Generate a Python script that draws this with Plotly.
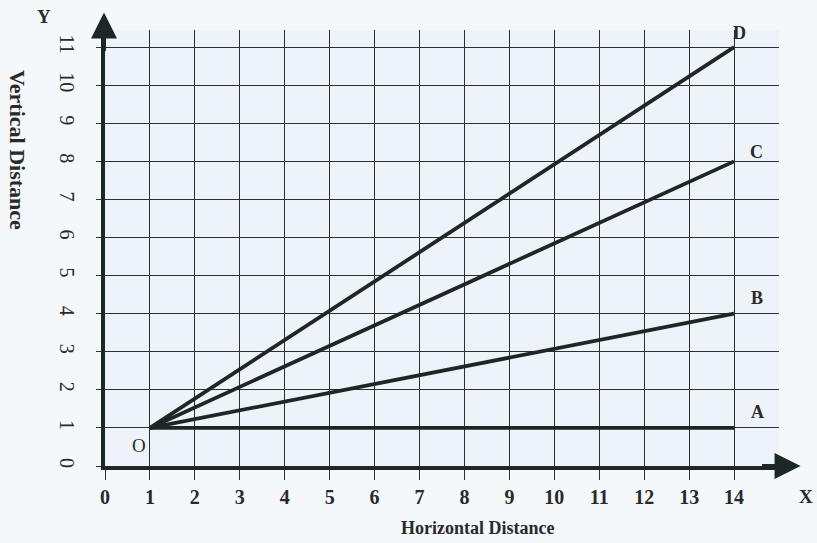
import plotly.graph_objects as go

# Rays drawn from the common origin O to the end points A, B, C, D
origin = (1, 1)
ray_names = ["A", "B", "C", "D"]
end_x = [14, 14, 14, 14]
end_y = [1, 4, 8, 11]

x_ticks = list(range(0, 15))
y_ticks = list(range(0, 12))

# Offsets of each end-point letter from its ray's end
label_dx = [0.52, 0.5, 0.5, 0.12]
label_dy = [0.42, 0.42, 0.25, 0.37]

INK = "#1d2725"
GRID = "#2a3230"
TEXT = "#2a2a2a"
SERIF = "Liberation Serif, Times New Roman, serif"

fig = go.Figure()

for name, xe, ye, dx, dy in zip(ray_names, end_x, end_y, label_dx, label_dy):
    fig.add_trace(go.Scatter(
        x=[origin[0], xe], y=[origin[1], ye], mode="lines",
        line=dict(color=INK, width=3.8), name=name, showlegend=False,
        hoverinfo="skip",
    ))
    fig.add_annotation(x=xe + dx, y=ye + dy, text=f"<b>{name}</b>",
                       showarrow=False, xref="x", yref="y",
                       xanchor="center", yanchor="middle",
                       font=dict(family=SERIF, size=18, color=TEXT))

# Origin label
fig.add_annotation(x=0.76, y=0.53, text="O", showarrow=False, xref="x", yref="y",
                   xanchor="center", yanchor="middle",
                   font=dict(family=SERIF, size=19, color=TEXT))

# Axis arrow heads
fig.add_annotation(x=1.032, y=0, xref="paper", yref="y", ax=-40, ay=0,
                   text="", showarrow=True, arrowhead=2, arrowsize=1.3,
                   arrowwidth=4, arrowcolor=INK)
fig.add_annotation(x=-0.0015, y=1.04, xref="paper", yref="paper", ax=0, ay=40,
                   text="", showarrow=True, arrowhead=2, arrowsize=1.3,
                   arrowwidth=4, arrowcolor=INK)

# Axis letters
fig.add_annotation(x=-0.091, y=1.032, xref="paper", yref="paper", text="<b>Y</b>",
                   xanchor="center", yanchor="middle", showarrow=False,
                   font=dict(family=SERIF, size=19, color=TEXT))
fig.add_annotation(x=1.04, y=-0.069, xref="paper", yref="paper", text="<b>X</b>",
                   xanchor="center", yanchor="middle", showarrow=False,
                   font=dict(family=SERIF, size=19, color=TEXT))

# Axis titles
fig.add_annotation(x=0.552, y=-0.142, xref="paper", yref="paper",
                   text="<b>Horizontal Distance</b>", showarrow=False,
                   xanchor="center", yanchor="middle",
                   font=dict(family=SERIF, size=18, color=TEXT))
fig.add_annotation(x=-0.1306, y=0.725, xref="paper", yref="paper",
                   text="<b>Vertical Distance</b>", showarrow=False, textangle=90,
                   xanchor="center", yanchor="middle",
                   font=dict(family=SERIF, size=22, color=TEXT))

fig.update_xaxes(
    range=[0, 15], tickvals=x_ticks, ticktext=[f"<b>{v}</b>" for v in x_ticks],
    showgrid=True, gridcolor=GRID, gridwidth=1.4, zeroline=False,
    showline=True, linecolor=INK, linewidth=4,
    ticks="outside", ticklen=10, tickwidth=1.4, tickcolor=GRID,
    ticklabelstandoff=0,
    tickfont=dict(family=SERIF, size=20, color=TEXT),
)
fig.update_yaxes(
    range=[0, 11.45], tickvals=y_ticks, ticktext=[str(v) for v in y_ticks],
    showgrid=True, gridcolor=GRID, gridwidth=1.4, zeroline=False,
    showline=True, linecolor=INK, linewidth=4,
    ticks="outside", ticklen=5, tickwidth=1.4, tickcolor=GRID,
    tickangle=90, ticklabelstandoff=12,
    tickfont=dict(family=SERIF, size=20, color=TEXT),
)

fig.update_layout(
    width=817, height=543,
    margin=dict(l=105, r=38, t=30, b=77),
    paper_bgcolor="#f5f8fb", plot_bgcolor="#edf3f9",
    showlegend=False,
)

fig.write_html("out.html")
